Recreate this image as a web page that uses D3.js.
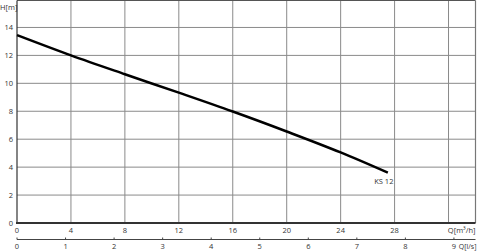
<!DOCTYPE html>
<html>
<head>
<meta charset="utf-8">
<style>
  body { margin: 0; background: #fff; }
  svg text { font-family: "Open Sans", "Noto Sans", sans-serif; font-size: 7.5px; fill: #333; }
</style>
</head>
<body>
<div id="chart"></div>
<script src="https://d3js.org/d3.v7.min.js"></script>
<script>
// pump curve KS 12
var flowM3h = [0, 4, 8, 12, 16, 20, 24, 27.5];
var headM = [13.45, 12.0, 10.65, 9.33, 7.98, 6.55, 5.05, 3.6];
var xTicks = [0, 4, 8, 12, 16, 20, 24, 28];
var yTicks = [0, 2, 4, 6, 8, 10, 12, 14];
var lsTicks = [0, 1, 2, 3, 4, 5, 6, 7, 8, 9];
var curveName = "KS 12";

var W = 500, H = 251;
var pLeft = 17, pRight = 475.5, pBottom = 223, pTop = 0.5;

var svg = d3.select("#chart").append("svg").attr("width", W).attr("height", H);

var x = d3.scaleLinear().domain([0, 34]).range([pLeft, pRight]);
var y = d3.scaleLinear().domain([0, 15.93]).range([pBottom, pTop]);
var xls = d3.scaleLinear().domain([0, 34 / 3.6]).range([pLeft, pRight]);

// grid
svg.append("g").selectAll("line").data(xTicks.slice(1).concat([32])).enter().append("line")
  .attr("x1", d => x(d)).attr("x2", d => x(d)).attr("y1", pTop).attr("y2", pBottom)
  .attr("stroke", "#8a8a8a").attr("stroke-width", 1);
svg.append("g").selectAll("line").data(yTicks.slice(1)).enter().append("line")
  .attr("x1", pLeft).attr("x2", pRight).attr("y1", d => y(d)).attr("y2", d => y(d))
  .attr("stroke", "#8a8a8a").attr("stroke-width", 1);

// frame
svg.append("line").attr("x1", pLeft).attr("x2", pRight).attr("y1", pTop).attr("y2", pTop)
  .attr("stroke", "#555").attr("stroke-width", 1);
svg.append("line").attr("x1", pRight).attr("x2", pRight).attr("y1", pTop).attr("y2", pBottom)
  .attr("stroke", "#777").attr("stroke-width", 1.2);
svg.append("line").attr("x1", pLeft).attr("x2", pLeft).attr("y1", pTop).attr("y2", pBottom)
  .attr("stroke", "#333").attr("stroke-width", 1.2);
svg.append("line").attr("x1", pLeft - 1).attr("x2", pRight).attr("y1", pBottom).attr("y2", pBottom)
  .attr("stroke", "#333").attr("stroke-width", 1.8);

// y labels
svg.append("g").selectAll("text").data(yTicks).enter().append("text")
  .attr("x", pLeft - 4).attr("y", d => y(d) + 2.5).attr("text-anchor", "end").text(d => d);
svg.append("text").attr("x", 0).attr("y", 10).text("H[m]");

// x labels (m3/h)
svg.append("g").selectAll("text").data(xTicks).enter().append("text")
  .attr("x", d => x(d)).attr("y", 233).attr("text-anchor", "middle").text(d => d);
svg.append("text").attr("x", pRight).attr("y", 233).attr("text-anchor", "end").text("Q[m³/h]");

// l/s axis
svg.append("line").attr("x1", pLeft).attr("x2", pRight).attr("y1", 239.5).attr("y2", 239.5)
  .attr("stroke", "#444").attr("stroke-width", 1);
svg.append("g").selectAll("line").data(lsTicks).enter().append("line")
  .attr("x1", d => xls(d)).attr("x2", d => xls(d)).attr("y1", 237.5).attr("y2", 239.5)
  .attr("stroke", "#444");
svg.append("g").selectAll("text").data(lsTicks).enter().append("text")
  .attr("x", d => xls(d)).attr("y", 249).attr("text-anchor", "middle").text(d => d);
svg.append("text").attr("x", pRight + 1).attr("y", 249).attr("text-anchor", "end")
  .style("font-size", "7px").text("Q[l/s]");

// curve
var pts = flowM3h.map((q, i) => [q, headM[i]]);
svg.append("path").datum(pts)
  .attr("d", d3.line().x(d => x(d[0])).y(d => y(d[1])).curve(d3.curveMonotoneX))
  .attr("fill", "none").attr("stroke", "#000").attr("stroke-width", 2.5);

svg.append("text").attr("x", x(27.5) - 4).attr("y", 184).attr("text-anchor", "middle").text(curveName);
</script>
</body>
</html>
